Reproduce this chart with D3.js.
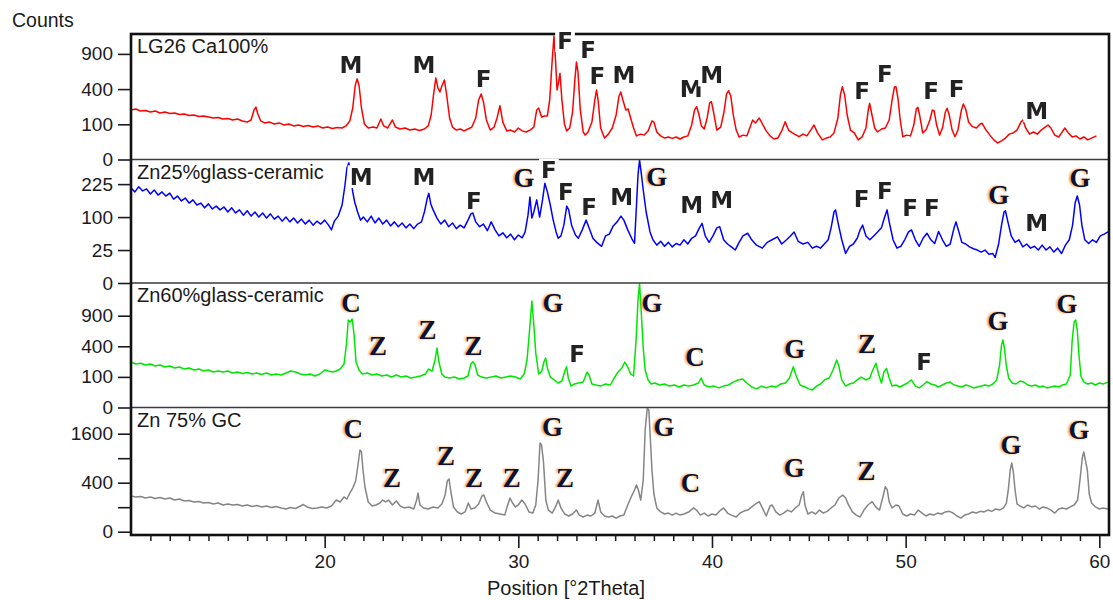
<!DOCTYPE html>
<html>
<head>
<meta charset="utf-8">
<script src="https://cdn.jsdelivr.net/npm/d3@7"></script>
<style>
  html, body { margin: 0; padding: 0; background: #fff; }
  svg { display: block; }
</style>
</head>
<body>
<svg id="chart" width="1113" height="600"></svg>
<script>
// ---------------- data ----------------
const thetaDomain = [10, 60.5];
const thetaTicks = [20, 30, 40, 50, 60];
const panelNames = ["LG26 Ca100%", "Zn25%glass-ceramic", "Zn60%glass-ceramic", "Zn 75% GC"];
const countMax = [1271, 351, 1655, 2570];
const countTicks = [[0, 100, 400, 900], [0, 25, 100, 225], [0, 100, 400, 900], [0, 100, 400, 900, 1600]];
const countTickLabels = [["0", "100", "400", "900"], ["0", "25", "100", "225"], ["0", "100", "400", "900"], ["0", "", "400", "", "1600"]];

// [2theta, counts]
const ca100 = [[10.0,198],[10.25,206],[10.5,190],[10.75,194],[11.0,182],[11.25,190],[11.5,175],[11.75,182],[12.0,171],[12.25,175],[12.5,163],[12.75,167],[13.0,156],[13.25,160],[13.5,149],[13.75,153],[14.0,146],[14.25,139],[14.5,142],[14.75,132],[15.0,136],[15.25,126],[15.5,132],[15.75,120],[16.0,113],[16.2,126],[16.35,198],[16.45,222],[16.55,167],[16.7,120],[16.9,108],[17.15,113],[17.4,102],[17.65,108],[17.9,96],[18.15,102],[18.4,91],[18.65,96],[18.9,88],[19.15,93],[19.4,85],[19.65,91],[19.9,80],[20.15,85],[20.4,78],[20.65,83],[20.9,80],[21.1,91],[21.3,120],[21.45,214],[21.58,448],[21.68,525],[21.78,436],[21.9,214],[22.05,102],[22.25,80],[22.5,85],[22.7,80],[22.9,132],[23.05,91],[23.25,80],[23.5,126],[23.65,85],[23.9,75],[24.15,80],[24.4,70],[24.65,75],[24.9,68],[25.15,75],[25.35,91],[25.5,160],[25.62,336],[25.74,536],[25.85,413],[25.95,368],[26.05,436],[26.18,511],[26.3,336],[26.45,139],[26.6,85],[26.8,70],[27.0,75],[27.2,66],[27.4,75],[27.6,85],[27.8,139],[27.95,286],[28.08,346],[28.2,267],[28.35,126],[28.55,70],[28.75,85],[28.9,139],[29.05,234],[29.2,113],[29.4,66],[29.6,70],[29.8,61],[30.0,80],[30.2,66],[30.4,61],[30.6,70],[30.8,85],[30.95,198],[31.05,214],[31.2,146],[31.35,153],[31.5,153],[31.62,286],[31.75,799],[31.84,1231],[31.92,799],[32.0,390],[32.08,485],[32.15,600],[32.25,286],[32.38,102],[32.5,66],[32.65,80],[32.8,182],[32.92,511],[33.0,767],[33.08,618],[33.2,198],[33.35,61],[33.45,48],[33.6,61],[33.8,113],[33.95,286],[34.04,390],[34.13,267],[34.25,80],[34.45,37],[34.65,52],[34.85,80],[35.05,160],[35.2,326],[35.29,368],[35.4,286],[35.55,198],[35.67,206],[35.8,139],[35.95,80],[36.1,45],[36.3,52],[36.5,48],[36.7,66],[36.9,120],[37.0,113],[37.15,61],[37.35,45],[37.55,37],[37.75,41],[37.95,36],[38.15,41],[38.35,34],[38.55,41],[38.75,45],[38.95,96],[39.1,198],[39.21,225],[39.32,167],[39.45,91],[39.6,75],[39.75,139],[39.88,258],[39.97,270],[40.08,182],[40.25,70],[40.45,85],[40.62,182],[40.75,346],[40.86,382],[40.97,326],[41.1,160],[41.25,70],[41.4,41],[41.6,48],[41.8,45],[41.95,80],[42.1,126],[42.25,108],[42.44,139],[42.6,102],[42.8,66],[43.0,45],[43.2,34],[43.4,37],[43.6,66],[43.78,115],[43.95,70],[44.15,57],[44.35,48],[44.5,42],[44.7,52],[44.9,45],[45.1,70],[45.27,96],[45.45,57],[45.7,31],[45.9,37],[46.1,41],[46.3,57],[46.5,139],[46.63,336],[46.73,428],[46.85,336],[46.98,160],[47.15,70],[47.35,57],[47.55,31],[47.75,41],[47.95,80],[48.07,198],[48.14,255],[48.25,167],[48.4,80],[48.55,61],[48.75,75],[48.95,80],[49.15,126],[49.3,286],[49.42,424],[49.5,428],[49.6,305],[49.72,126],[49.85,42],[50.05,48],[50.25,45],[50.42,96],[50.55,206],[50.63,220],[50.72,160],[50.88,57],[51.05,70],[51.25,126],[51.38,198],[51.47,190],[51.6,96],[51.75,48],[51.9,80],[52.05,182],[52.14,212],[52.25,160],[52.4,70],[52.55,42],[52.7,70],[52.88,198],[52.98,249],[53.1,206],[53.25,113],[53.45,87],[53.65,80],[53.85,102],[53.95,106],[54.15,70],[54.35,48],[54.55,31],[54.75,22],[54.95,28],[55.15,37],[55.35,52],[55.55,57],[55.75,70],[55.95,113],[56.05,126],[56.2,80],[56.4,52],[56.6,61],[56.8,52],[57.0,70],[57.2,85],[57.35,96],[57.5,80],[57.7,48],[57.9,41],[58.05,57],[58.22,80],[58.4,57],[58.6,41],[58.8,45],[59.0,34],[59.2,41],[59.4,31],[59.6,37],[59.85,45]];

const zn25 = [[10.0,208],[10.2,191],[10.4,213],[10.6,195],[10.8,204],[11.0,182],[11.2,199],[11.4,178],[11.6,191],[11.8,174],[12.0,186],[12.2,162],[12.4,174],[12.6,155],[12.8,166],[13.0,147],[13.2,159],[13.4,140],[13.6,147],[13.8,130],[14.0,144],[14.2,126],[14.4,136],[14.6,123],[14.8,133],[15.0,116],[15.2,130],[15.4,113],[15.6,123],[15.8,106],[16.0,120],[16.2,103],[16.4,116],[16.6,100],[16.8,113],[17.0,97],[17.2,110],[17.4,94],[17.6,103],[17.8,88],[18.0,100],[18.2,86],[18.4,97],[18.6,83],[18.8,94],[19.0,80],[19.2,91],[19.4,77],[19.6,88],[19.8,80],[20.0,91],[20.2,77],[20.35,65],[20.5,88],[20.7,103],[20.9,140],[21.05,221],[21.15,305],[21.25,332],[21.35,254],[21.45,191],[21.55,151],[21.7,116],[21.85,91],[22.0,100],[22.2,86],[22.4,103],[22.6,83],[22.8,97],[23.0,80],[23.2,91],[23.4,75],[23.6,86],[23.8,73],[24.0,83],[24.2,70],[24.4,80],[24.6,68],[24.8,80],[25.0,86],[25.15,116],[25.3,166],[25.38,185],[25.48,144],[25.6,123],[25.8,97],[26.0,80],[26.2,91],[26.4,73],[26.6,83],[26.8,68],[27.0,77],[27.2,70],[27.4,91],[27.55,110],[27.65,113],[27.8,86],[28.0,73],[28.2,80],[28.4,63],[28.6,86],[28.8,65],[29.0,51],[29.2,58],[29.4,47],[29.6,55],[29.8,43],[30.0,53],[30.2,47],[30.35,60],[30.5,106],[30.6,170],[30.7,97],[30.8,116],[30.95,159],[31.1,100],[31.25,159],[31.37,229],[31.5,191],[31.65,140],[31.8,91],[31.95,60],[32.06,46],[32.2,51],[32.35,77],[32.5,136],[32.6,123],[32.75,77],[32.95,53],[33.1,46],[33.3,65],[33.5,91],[33.65,70],[33.85,46],[34.05,38],[34.3,31],[34.5,51],[34.7,55],[34.9,75],[35.1,86],[35.3,103],[35.45,91],[35.65,65],[35.85,46],[36.0,36],[36.08,113],[36.18,269],[36.26,348],[36.34,284],[36.45,199],[36.6,116],[36.8,60],[36.95,43],[37.15,33],[37.35,40],[37.55,31],[37.75,38],[37.95,30],[38.15,36],[38.35,33],[38.55,43],[38.75,35],[38.95,46],[39.15,51],[39.35,70],[39.49,82],[39.65,51],[39.85,38],[40.05,51],[40.25,70],[40.4,73],[40.6,43],[40.8,35],[41.0,30],[41.2,25],[41.4,38],[41.6,51],[41.84,57],[42.05,43],[42.3,33],[42.6,28],[42.85,38],[43.1,43],[43.38,49],[43.6,35],[43.85,43],[44.05,51],[44.24,60],[44.45,40],[44.7,35],[44.95,38],[45.18,28],[45.4,31],[45.6,28],[45.8,35],[46.0,43],[46.15,70],[46.3,116],[46.38,123],[46.5,86],[46.7,43],[46.9,20],[47.1,31],[47.3,35],[47.5,46],[47.65,65],[47.78,77],[47.95,51],[48.15,43],[48.35,51],[48.55,60],[48.75,70],[48.9,97],[49.04,123],[49.15,86],[49.35,43],[49.55,28],[49.75,31],[49.95,43],[50.15,60],[50.3,65],[50.5,43],[50.7,31],[50.9,46],[51.1,57],[51.3,43],[51.5,36],[51.7,61],[51.9,43],[52.1,31],[52.3,35],[52.5,70],[52.6,86],[52.72,65],[52.9,38],[53.1,35],[53.3,30],[53.5,27],[53.7,25],[53.9,22],[54.1,25],[54.3,19],[54.5,20],[54.62,15],[54.8,35],[54.95,77],[55.08,116],[55.15,120],[55.28,86],[55.45,51],[55.65,38],[55.85,43],[56.05,30],[56.25,35],[56.45,28],[56.65,31],[56.85,25],[57.05,33],[57.25,25],[57.45,30],[57.65,22],[57.85,28],[58.05,20],[58.25,33],[58.45,43],[58.62,77],[58.75,147],[58.86,174],[58.98,140],[59.1,77],[59.25,43],[59.45,36],[59.65,43],[59.85,38],[60.05,51],[60.25,55],[60.45,60]];

const zn60 = [[10.0,221],[10.25,202],[10.5,209],[10.75,193],[11.0,202],[11.25,184],[11.5,193],[11.75,175],[12.0,184],[12.25,167],[12.5,175],[12.75,158],[13.0,167],[13.25,150],[13.5,158],[13.75,142],[14.0,150],[14.25,135],[14.5,142],[14.75,135],[15.0,142],[15.25,127],[15.5,135],[15.75,123],[16.0,131],[16.25,120],[16.5,127],[16.75,116],[17.0,127],[17.25,113],[17.5,120],[17.75,113],[18.0,127],[18.25,142],[18.5,135],[18.75,120],[19.0,113],[19.25,120],[19.5,106],[19.75,120],[20.0,150],[20.2,142],[20.4,135],[20.6,142],[20.8,158],[21.0,202],[21.12,417],[21.22,818],[21.32,781],[21.42,836],[21.52,561],[21.62,221],[21.77,150],[21.95,120],[22.2,127],[22.45,113],[22.7,120],[22.95,106],[23.2,113],[23.45,99],[23.7,113],[23.95,99],[24.2,106],[24.45,93],[24.7,99],[24.95,106],[25.2,120],[25.37,158],[25.55,142],[25.7,241],[25.8,378],[25.9,221],[26.05,120],[26.2,99],[26.45,93],[26.7,99],[26.95,87],[27.2,93],[27.4,106],[27.55,202],[27.65,224],[27.75,202],[27.9,113],[28.1,99],[28.35,93],[28.6,99],[28.85,106],[29.1,93],[29.35,99],[29.6,106],[29.85,99],[30.1,87],[30.3,120],[30.45,241],[30.58,641],[30.7,1211],[30.8,727],[30.9,317],[31.05,120],[31.2,135],[31.32,221],[31.41,262],[31.5,167],[31.65,99],[31.85,81],[32.05,64],[32.25,75],[32.42,150],[32.49,178],[32.58,93],[32.72,49],[32.9,59],[33.1,64],[33.35,69],[33.55,135],[33.65,113],[33.8,59],[34.0,54],[34.25,49],[34.5,59],[34.75,54],[34.95,93],[35.15,135],[35.35,167],[35.5,221],[35.65,175],[35.8,120],[35.95,106],[36.08,487],[36.18,1234],[36.26,1647],[36.34,1015],[36.45,378],[36.55,150],[36.7,81],[36.85,59],[37.05,64],[37.3,54],[37.55,59],[37.8,49],[38.05,54],[38.3,45],[38.55,54],[38.8,49],[39.05,54],[39.3,64],[39.44,93],[39.6,54],[39.85,45],[40.1,49],[40.35,41],[40.6,49],[40.85,54],[41.1,69],[41.35,81],[41.58,87],[41.8,64],[42.05,45],[42.3,37],[42.55,49],[42.8,41],[43.05,49],[43.3,45],[43.55,59],[43.8,64],[44.0,93],[44.2,178],[44.35,106],[44.55,54],[44.8,45],[45.0,37],[45.18,33],[45.4,49],[45.6,59],[45.8,81],[46.05,93],[46.25,150],[46.44,241],[46.55,184],[46.7,81],[46.9,49],[47.1,59],[47.3,64],[47.5,81],[47.7,99],[47.95,81],[48.15,93],[48.3,150],[48.47,209],[48.6,120],[48.75,64],[48.88,135],[49.01,164],[49.15,93],[49.3,49],[49.5,54],[49.7,45],[49.9,54],[50.1,64],[50.3,81],[50.5,49],[50.7,41],[50.9,54],[51.1,72],[51.3,59],[51.5,54],[51.7,45],[51.9,54],[52.1,64],[52.3,69],[52.5,54],[52.7,49],[52.9,45],[53.1,54],[53.3,49],[53.5,41],[53.7,45],[53.9,49],[54.1,54],[54.3,49],[54.5,59],[54.7,81],[54.85,193],[54.95,417],[55.02,487],[55.1,378],[55.2,184],[55.32,93],[55.5,64],[55.7,59],[55.9,75],[56.1,69],[56.3,54],[56.5,49],[56.7,54],[56.9,45],[57.1,49],[57.3,41],[57.5,45],[57.7,49],[57.9,45],[58.1,54],[58.3,59],[58.5,113],[58.6,487],[58.7,780],[58.78,818],[58.86,641],[58.95,294],[59.05,106],[59.2,69],[59.4,59],[59.6,64],[59.8,54],[60.0,64],[60.2,59],[60.45,69]];

const zn75 = [[10.0,212],[10.25,201],[10.5,206],[10.75,189],[11.0,201],[11.25,183],[11.5,195],[11.75,178],[12.0,189],[12.25,167],[12.5,178],[12.75,157],[13.0,162],[13.25,147],[13.5,152],[13.75,137],[14.0,142],[14.25,128],[14.5,137],[14.75,119],[15.0,128],[15.25,119],[15.5,123],[15.75,110],[16.0,119],[16.25,106],[16.5,114],[16.75,102],[17.0,110],[17.25,98],[17.5,106],[17.75,94],[18.0,86],[18.25,98],[18.5,90],[18.75,110],[18.9,123],[19.1,102],[19.35,90],[19.6,94],[19.85,102],[20.1,94],[20.35,110],[20.6,167],[20.8,147],[21.0,201],[21.15,178],[21.3,249],[21.45,318],[21.6,428],[21.72,741],[21.82,1112],[21.9,1058],[21.98,634],[22.08,333],[22.25,147],[22.45,110],[22.65,119],[22.85,137],[23.0,167],[23.15,147],[23.3,167],[23.5,119],[23.7,157],[23.9,110],[24.1,94],[24.35,102],[24.6,86],[24.75,167],[24.82,249],[24.92,119],[25.1,94],[25.35,86],[25.6,102],[25.85,94],[26.05,128],[26.22,224],[26.33,428],[26.42,463],[26.52,262],[26.65,102],[26.85,65],[27.05,52],[27.25,65],[27.42,137],[27.55,86],[27.75,94],[27.95,128],[28.12,212],[28.22,224],[28.35,147],[28.55,78],[28.8,58],[29.05,52],[29.3,46],[29.45,119],[29.57,189],[29.7,137],[29.85,102],[30.0,119],[30.18,167],[30.35,128],[30.55,65],[30.75,58],[30.9,119],[31.02,445],[31.12,1311],[31.2,1252],[31.3,809],[31.42,167],[31.55,78],[31.75,58],[31.92,102],[32.06,167],[32.2,94],[32.4,52],[32.6,41],[32.8,52],[33.0,78],[33.15,46],[33.35,36],[33.55,46],[33.75,41],[33.95,58],[34.12,167],[34.25,65],[34.45,41],[34.65,36],[34.85,41],[35.05,31],[35.25,41],[35.45,46],[35.65,119],[35.85,212],[36.0,290],[36.1,363],[36.2,290],[36.32,167],[36.45,445],[36.55,1723],[36.66,2550],[36.74,2467],[36.82,1401],[36.9,634],[37.0,237],[37.15,94],[37.35,65],[37.55,52],[37.75,58],[37.95,46],[38.15,58],[38.35,46],[38.55,52],[38.8,65],[39.05,94],[39.2,78],[39.4,46],[39.6,58],[39.8,41],[40.0,52],[40.2,46],[40.45,78],[40.6,94],[40.8,58],[41.0,46],[41.25,36],[41.45,58],[41.65,71],[41.85,78],[42.05,102],[42.25,128],[42.44,150],[42.6,94],[42.8,41],[43.0,110],[43.1,119],[43.3,65],[43.5,46],[43.7,58],[43.9,78],[44.1,65],[44.3,94],[44.5,119],[44.62,212],[44.72,267],[44.8,119],[44.95,52],[45.15,65],[45.35,52],[45.55,78],[45.75,58],[45.95,69],[46.15,94],[46.35,119],[46.55,189],[46.75,224],[46.9,189],[47.05,119],[47.25,65],[47.45,46],[47.65,36],[47.85,78],[48.05,119],[48.27,150],[48.45,102],[48.65,78],[48.85,224],[48.95,337],[49.05,290],[49.15,147],[49.3,94],[49.5,119],[49.65,110],[49.85,52],[50.05,41],[50.25,52],[50.45,46],[50.65,78],[50.85,58],[51.05,41],[51.25,52],[51.45,46],[51.65,58],[51.85,52],[52.05,65],[52.25,69],[52.45,58],[52.65,41],[52.85,31],[53.05,46],[53.25,52],[53.45,65],[53.65,58],[53.85,69],[54.05,65],[54.25,78],[54.45,69],[54.65,86],[54.85,78],[55.05,94],[55.2,134],[55.3,290],[55.4,634],[55.48,786],[55.56,594],[55.65,290],[55.75,128],[55.9,110],[56.1,94],[56.3,119],[56.5,102],[56.7,110],[56.9,86],[57.1,102],[57.3,94],[57.5,78],[57.7,58],[57.9,86],[58.1,94],[58.3,86],[58.5,102],[58.7,119],[58.88,167],[59.0,445],[59.12,905],[59.2,1058],[59.28,856],[59.38,634],[59.48,237],[59.6,137],[59.8,102],[60.0,86],[60.2,94],[60.45,86]];

// phase marks: [letter, 2theta, counts]
const ca100Marks = [["M",21.36,721],["M",25.13,721],["F",28.21,527],["F",32.41,1139],["F",33.6,968],["F",34.08,563],["M",35.46,576],["M",38.92,409],["M",39.98,576],["F",47.75,382],["F",48.93,600],["F",51.31,382],["F",52.63,401],["M",56.77,192]];
const zn25Marks = [["M",21.88,260],["M",25.13,260],["F",27.70,156],["G",30.29,252],["F",31.58,294],["F",32.46,192],["F",33.65,134],["M",35.34,170],["G",37.15,256],["M",38.95,140],["M",40.50,159],["F",47.73,162],["F",48.93,196],["F",50.23,131],["F",51.35,131],["G",54.81,178],["M",56.77,84],["G",59.00,252]];
const zn60Marks = [["C",21.36,1160],["Z",22.75,404],["Z",25.31,641],["Z",27.69,404],["G",31.79,1160],["F",33.03,314],["G",36.90,1160],["C",39.12,276],["G",44.27,366],["Z",48.00,431],["F",50.95,224],["G",54.77,803],["G",58.33,1140]];
const zn75Marks = [["C",21.48,1750],["Z",23.48,475],["Z",26.27,960],["Z",27.71,475],["Z",29.66,475],["G",31.76,1809],["Z",32.41,475],["G",37.52,1809],["C",38.89,390],["G",44.25,670],["Z",47.98,618],["G",55.44,1252],["G",58.95,1723]];

const traceColors = ["#ff0000", "#0000ff", "#00e600", "#858585"];

// ---------------- layout ----------------
const plot = { left: 131, right: 1109, top: 34, bottom: 535 };
const bands = [
  { top: 34, zero: 159.5 },
  { top: 159.5, zero: 283 },
  { top: 283, zero: 407.5 },
  { top: 407.5, zero: 531.7 }
];
const SANS = "'Liberation Sans', Arial, sans-serif";
const SERIF = "'Liberation Serif', 'Times New Roman', serif";
const MARK_SANS = "'DejaVu Sans', Verdana, sans-serif";
const serifLetters = new Set(["G", "C", "Z"]);

const series = [ca100, zn25, zn60, zn75];
const marks = [ca100Marks, zn25Marks, zn60Marks, zn75Marks];

const svg = d3.select("#chart");
const defs = svg.append("defs");
defs.append("filter").attr("id", "soft")
  .attr("x", "-20%").attr("y", "-20%").attr("width", "140%").attr("height", "140%")
  .append("feGaussianBlur").attr("stdDeviation", 0.45);
defs.append("filter").attr("id", "halo")
  .attr("x", "-30%").attr("y", "-30%").attr("width", "160%").attr("height", "160%")
  .append("feGaussianBlur").attr("stdDeviation", 1.1);

const x = d3.scaleLinear().domain(thetaDomain).range([plot.left, plot.right]);
const yScales = bands.map((b, i) => d3.scaleSqrt().domain([0, countMax[i]]).range([b.zero, b.top]));

// traces
const traceLayer = svg.append("g");
series.forEach((data, i) => {
  const y = yScales[i];
  const line = d3.line().x(d => x(d[0])).y(d => y(d[1]));
  traceLayer.append("path")
    .datum(data)
    .attr("d", line)
    .attr("fill", "none")
    .attr("stroke", traceColors[i])
    .attr("stroke-width", 1.5)
    .attr("stroke-linejoin", "round");
});

// panel separators
svg.append("g").selectAll("line")
  .data(bands.slice(1))
  .join("line")
  .attr("x1", plot.left).attr("x2", plot.right)
  .attr("y1", d => d.top).attr("y2", d => d.top)
  .attr("stroke", "#3a3a3a").attr("stroke-width", 1.5);

// frame
svg.append("rect")
  .attr("x", plot.left).attr("y", plot.top)
  .attr("width", plot.right - plot.left).attr("height", plot.bottom - plot.top)
  .attr("fill", "none").attr("stroke", "#111").attr("stroke-width", 2.6);

// y axes, one per panel
yScales.forEach((y, i) => {
  const labels = countTickLabels[i];
  const g = svg.append("g")
    .attr("transform", `translate(${plot.left},0)`)
    .call(d3.axisLeft(y)
      .tickValues(countTicks[i])
      .tickSize(13)
      .tickPadding(5)
      .tickFormat((d, k) => labels[k]));
  g.select(".domain").remove();
  g.attr("font-family", SANS).attr("font-size", 19).attr("color", "#1a1a24");
  g.selectAll(".tick line").attr("stroke-width", 1.6);
});

// x axis: minor and major ticks
const minorTicks = d3.range(11, 61).filter(v => v % 10 !== 0);
const xMinor = svg.append("g")
  .attr("transform", `translate(0,${plot.bottom})`)
  .call(d3.axisBottom(x).tickValues(minorTicks).tickSize(6).tickFormat(""));
xMinor.select(".domain").remove();
xMinor.attr("color", "#1a1a24").selectAll(".tick line").attr("stroke-width", 1.5);

const xMajor = svg.append("g")
  .attr("transform", `translate(0,${plot.bottom})`)
  .call(d3.axisBottom(x).tickValues(thetaTicks).tickSize(13).tickPadding(7).tickFormat(d3.format("d")));
xMajor.select(".domain").remove();
xMajor.attr("font-family", SANS).attr("font-size", 19).attr("color", "#1a1a24");
xMajor.selectAll(".tick line").attr("stroke-width", 1.6);

// phase marks
marks.forEach((list, i) => {
  const y = yScales[i];
  const g = svg.append("g");
  list.forEach(([letter, th, c]) => {
    const cx = x(th), cy = y(c);
    if (serifLetters.has(letter)) {
      const fs = 27;
      g.append("text")
        .attr("x", cx - 1.8).attr("y", cy + 0.33 * fs)
        .attr("text-anchor", "middle")
        .attr("font-family", SERIF).attr("font-weight", "bold").attr("font-size", fs)
        .attr("fill", "#f0962e").attr("opacity", 0.95)
        .attr("filter", "url(#halo)")
        .text(letter);
      g.append("text")
        .attr("x", cx).attr("y", cy + 0.33 * fs)
        .attr("text-anchor", "middle")
        .attr("font-family", SERIF).attr("font-weight", "bold").attr("font-size", fs)
        .attr("fill", "#0d1230")
        .text(letter);
    } else {
      const fs = 23;
      const bg = g.append("rect").attr("fill", "#fff");
      const t = g.append("text")
        .attr("x", cx).attr("y", cy + 0.365 * fs)
        .attr("text-anchor", "middle")
        .attr("font-family", MARK_SANS).attr("font-weight", "bold").attr("font-size", fs)
        .attr("fill", "#232323")
        .attr("filter", "url(#soft)")
        .text(letter);
      const w = t.node().getBBox().width;
      const h = 0.73 * fs + 6;
      bg.attr("x", cx - w / 2 - 2).attr("y", cy - h / 2)
        .attr("width", w + 4).attr("height", h);
    }
  });
});

// panel names
svg.append("g").selectAll("text")
  .data(panelNames)
  .join("text")
  .attr("x", plot.left + 6)
  .attr("y", (d, i) => bands[i].top + 19.3)
  .attr("font-family", SANS).attr("font-size", 20)
  .attr("fill", "#1a1a1a")
  .text(d => d);

// axis titles
svg.append("text")
  .attr("x", 12).attr("y", 27)
  .attr("font-family", SANS).attr("font-size", 19.5)
  .attr("fill", "#1a1a1a")
  .text("Counts");

svg.append("text")
  .attr("x", 566).attr("y", 595)
  .attr("text-anchor", "middle")
  .attr("font-family", SANS).attr("font-size", 20)
  .attr("fill", "#1a1a1a")
  .text("Position [°2Theta]");
</script>
</body>
</html>
